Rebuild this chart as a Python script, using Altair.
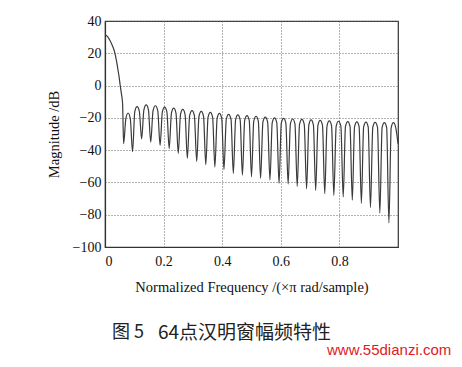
import altair as alt
import pandas as pd

# main lobe (normalized frequency, dB)
main_f = [0.0, 0.008, 0.016, 0.025, 0.034, 0.040, 0.044, 0.048, 0.052, 0.056, 0.060]
main_db = [31.3, 30.5, 28.2, 24.8, 20.0, 14.5, 10.0, 5.5, 0.0, -5.0, -11.0]

# nulls between side lobes
null_f = [0.0635, 0.094, 0.125, 0.156, 0.188, 0.219, 0.25, 0.281, 0.313, 0.344,
          0.375, 0.406, 0.438, 0.469, 0.5, 0.531, 0.563, 0.594, 0.625, 0.656,
          0.688, 0.719, 0.75, 0.781, 0.813, 0.844, 0.875, 0.906, 0.938, 0.969, 1.0]
null_db = [-36, -41, -33, -35, -37, -39, -42, -45, -47, -49,
           -50.5, -52, -54.5, -55.5, -56.5, -57.5, -58.5, -60.5, -61, -62.5,
           -64, -65, -67, -68, -69, -71, -73, -75.5, -79, -85, -36]

# side lobe peaks (one per lobe, between consecutive nulls)
peak_db = [-17, -13, -12, -12.5, -13.3, -14, -14.8, -15.5, -16, -16.6,
           -17.2, -17.8, -18.2, -18.6, -19, -19.5, -20, -20.3, -20.7, -21,
           -21.3, -21.6, -21.9, -22.1, -22.3, -22.5, -22.6, -22.8, -22.9, -23]
# lobe shoulder levels (quarter way across each lobe)
shoulder_db = [-20.5, -16, -15, -15.5, -16.3, -17, -17.8, -18.5, -19, -19.6,
               -20.2, -20.8, -21.2, -21.6, -22, -22.5, -23, -23.3, -23.7, -24,
               -24.3, -24.6, -24.9, -25.1, -25.3, -25.5, -25.6, -25.8, -25.9, -26]

x_ticks = [0, 0.2, 0.4, 0.6, 0.8]
y_ticks = [-100, -80, -60, -40, -20, 0, 20, 40]

caption_a = "图 5"
caption_b = "64点汉明窗幅频特性"
watermark = "www.55dianzi.com"

rows = [(f, d) for f, d in zip(main_f, main_db)]
for i in range(len(peak_db)):
    a, b = null_f[i], null_f[i + 1]
    rows.append((a, null_db[i]))
    rows.append((a + (b - a) * 0.25, shoulder_db[i]))
    rows.append(((a + b) / 2, peak_db[i]))
    rows.append((a + (b - a) * 0.75, shoulder_db[i]))
rows.append((null_f[-1], null_db[-1]))
df = pd.DataFrame(rows, columns=["f", "db"])
df["o"] = range(len(df))

serif = "Liberation Serif"

line = alt.Chart(df).mark_line(color="#3a3a3a", strokeWidth=1.2, interpolate="monotone").encode(
    x=alt.X("f:Q", scale=alt.Scale(domain=[0, 1], nice=False),
            axis=alt.Axis(values=x_ticks, title="Normalized Frequency /(×π rad/sample)",
                          titlePadding=12,
                          labelExpr="datum.value == 0 ? '0' : format(datum.value, '.1f')")),
    y=alt.Y("db:Q", scale=alt.Scale(domain=[-100, 40], nice=False),
            axis=alt.Axis(values=y_ticks, title="Magnitude /dB", titlePadding=11)),
    order="o:Q",
)

cap_a = alt.Chart(pd.DataFrame({"t": [caption_a]})).mark_text(
    align="left", baseline="middle", font="Noto Sans CJK SC", fontSize=18, color="#222"
).encode(x=alt.value(7), y=alt.value(312), text="t:N")

cap_b = alt.Chart(pd.DataFrame({"t": [caption_b]})).mark_text(
    align="left", baseline="middle", font="Noto Sans CJK SC", fontSize=19, color="#222"
).encode(x=alt.value(53), y=alt.value(312), text="t:N")

wm = alt.Chart(pd.DataFrame({"t": [watermark]})).mark_text(
    align="left", baseline="alphabetic", font="Liberation Sans", fontSize=15, color="#e0201e"
).encode(x=alt.value(222), y=alt.value(334), text="t:N")

chart = alt.layer(line, cap_a, cap_b, wm).properties(
    width=293, height=226,
    autosize=alt.AutoSizeParams(type="none"),
    padding={"left": 97, "top": 13, "right": 56, "bottom": 112},
    background="white",
).configure_view(stroke="#333", strokeWidth=1.2).configure_axis(
    grid=True, gridColor="#666", gridDash=[1, 2], gridWidth=1,
    domainColor="#333", domainWidth=1.2, ticks=False,
    labelFont=serif, labelFontSize=14, labelColor="#111",
    titleFont=serif, titleFontSize=14.5, titleFontWeight="normal", titleColor="#111",
).configure_axisX(labelPadding=7).configure_axisY(labelPadding=4)

chart.save("out.html", embed_options={"renderer": "svg", "actions": False})
